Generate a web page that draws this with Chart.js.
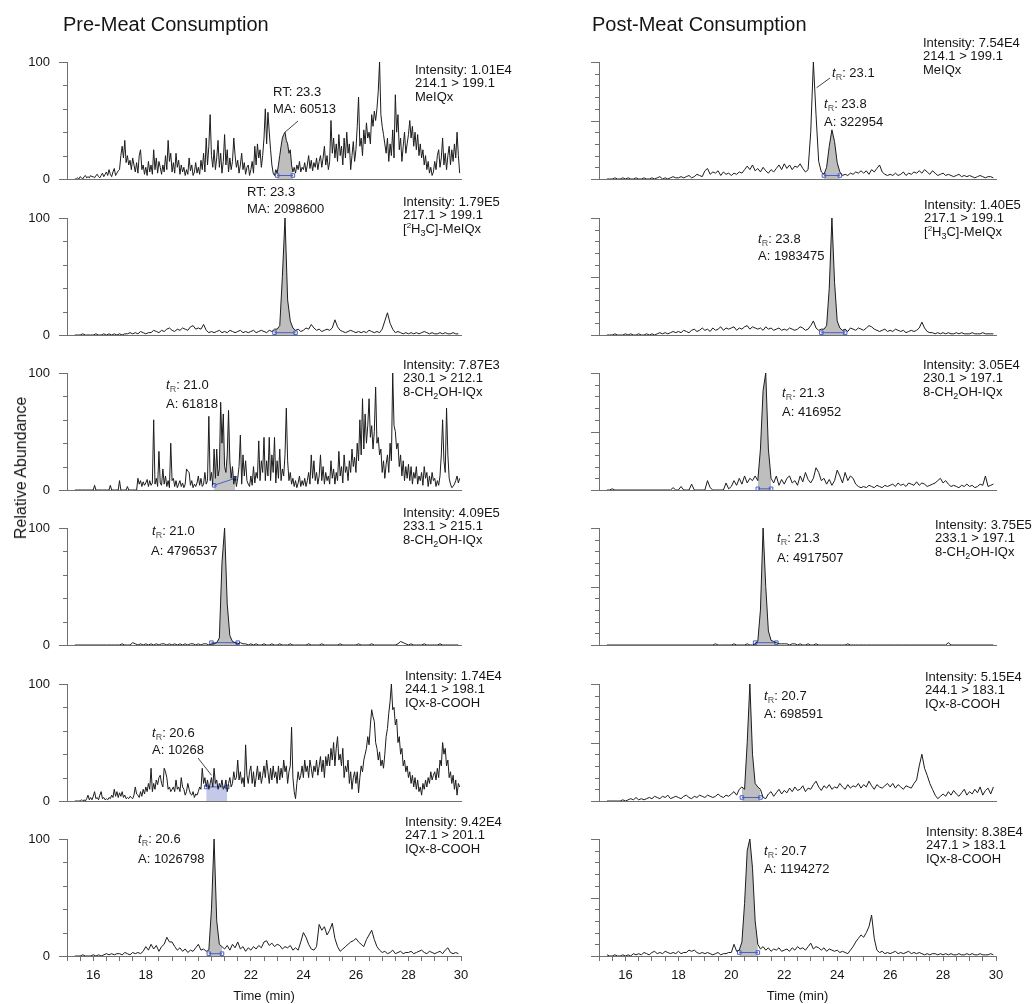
<!DOCTYPE html>
<html><head><meta charset="utf-8">
<script src="https://cdn.jsdelivr.net/npm/chart.js@4.4.1/dist/chart.umd.min.js"></script>
<style>
body{margin:0;background:#fff;}
#root{position:relative;width:1034px;height:1004px;overflow:hidden;font-family:"Liberation Sans",Arial,sans-serif;color:#151515;}
canvas{position:absolute;}
.t{position:absolute;white-space:nowrap;font-size:13px;line-height:13px;}
.sub{font-size:9px;position:relative;top:3px;color:#555;}
.isub{font-size:9px;position:relative;top:3px;}
.sup{font-size:8px;position:relative;top:-5px;}
.title{position:absolute;white-space:nowrap;font-size:20px;line-height:20px;}
.ytitle{position:absolute;white-space:nowrap;font-size:16px;line-height:16px;transform:translate(-50%,-50%) rotate(-90deg);}
</style></head><body><div id="root"></div>
<script>
// ---------------- DATA (relative abundance, % ; time starts at 15.3 min) ----------------
const T0 = 15.3;
const xTickLabels = [16, 18, 20, 22, 24, 26, 28, 30];

// Pre-meat, MeIQx 214.1>199.1 (0.05 min spacing)
const preMeIQx = [
0,0,1,0,2,1,0,2,3,1,2,1,3,2,
2,1,3,4,2,1,3,5,2,4,6,3,8,4,2,6,9,3,5,7,
8,20,28,18,33,14,20,12,16,8,18,12,6,14,5,20,25,8,12,4,
10,3,15,6,12,4,25,8,18,5,15,10,4,12,6,20,8,33,15,22,
6,14,5,22,10,16,4,12,6,10,3,8,4,18,7,12,3,6,14,5,
10,4,16,8,22,6,35,12,28,55,20,10,25,8,18,33,10,22,5,15,
38,12,25,6,18,8,15,35,20,10,16,5,12,22,8,14,4,10,12,3,
8,15,5,28,12,30,18,25,10,20,35,60,30,57,40,25,12,5,3,8,
5,12,20,28,35,38,40,33,30,22,25,12,6,10,5,12,8,15,6,10,
8,14,6,12,20,9,16,7,14,10,18,8,15,20,10,18,28,12,20,8,
15,50,22,35,18,30,15,38,20,28,12,35,18,40,22,30,8,20,32,15,
25,45,70,28,35,20,42,30,48,35,40,30,55,45,58,50,60,75,100,55,
45,38,30,22,35,15,30,20,42,18,72,40,55,25,35,15,28,40,22,30,
38,50,35,45,28,40,25,38,20,30,18,25,12,20,8,15,5,10,3,6,
15,8,20,25,10,18,35,12,22,8,20,28,12,25,15,30,18,40,20,5];

// Post-meat, MeIQx 214.1>199.1 (0.1 min)
const postMeIQx = [
0,0,0,1,0,0,1,
0,1,0,0,1,0,0,1,0,0,
1,0,1,2,0,1,0,1,2,1,
1,2,1,2,3,1,2,4,3,2,
7,9,4,6,5,7,3,6,4,5,
3,5,4,6,5,8,11,8,12,7,
9,6,10,7,5,8,6,9,12,8,
13,9,12,8,11,10,13,9,6,8,
40,100,55,15,6,4,10,28,42,32,
14,6,3,4,3,5,4,6,5,7,
5,7,4,8,6,9,12,6,4,3,
4,3,5,3,4,6,3,5,4,6,
5,7,5,8,6,4,7,5,3,4,
5,3,4,3,2,3,4,2,3,2,
3,2,1,2,3,2,1,2,2,1];

// Pre-meat, [2H3C]-MeIQx 217.1>199.1
const preD3MeIQx = [
0,0,0,1,0,0,0,
0,1,0,0,1,0,1,0,1,0,
1,0,1,1,2,1,2,1,3,2,
1,2,2,4,3,2,4,3,5,6,
4,3,5,4,6,5,4,7,8,5,
6,5,9,4,2,3,2,3,4,2,
3,2,4,3,2,3,4,2,3,2,
3,4,2,3,4,3,2,4,3,5,
5,8,50,100,30,12,6,4,5,3,
4,6,5,9,6,4,5,3,4,5,
4,6,13,7,4,3,2,3,4,3,
2,3,2,3,2,4,3,2,3,2,
5,12,19,10,5,2,3,2,1,2,
1,2,1,2,1,2,3,2,1,2,
1,1,2,1,2,1,1,2,1,1];

// Post-meat, [2H3C]-MeIQx 217.1>199.1
const postD3MeIQx = [
0,0,0,1,0,0,0,
1,0,1,0,0,1,0,0,1,0,
1,0,1,2,1,2,1,2,3,2,
3,2,4,3,2,4,5,3,4,6,
4,5,3,6,4,5,7,4,6,5,
6,7,4,6,5,7,8,5,7,6,
5,6,4,7,5,6,4,5,6,4,
5,4,6,5,4,5,7,6,4,5,
8,12,6,4,5,5,8,40,100,45,
12,6,4,5,3,6,5,4,6,5,
4,6,8,7,5,4,3,4,5,3,
4,3,5,4,3,4,2,3,4,3,
4,6,11,6,3,2,2,1,2,1,
2,1,2,1,1,2,1,2,1,1,
1,2,1,1,1,2,1,1,1,1];

// Pre-meat, 8-CH2OH-IQx 230.1>212.1 (0.05 min)
const preCH2OH230 = [
0,0,0,0,0,0,0,0,0,0,0,0,0,0,
0,4,0,0,0,0,0,0,0,0,0,0,0,4,0,0,0,0,0,0,
8,0,0,0,0,0,3,0,0,0,0,0,0,0,10,5,8,3,7,4,
6,9,3,8,4,6,60,5,10,3,33,6,4,18,5,12,3,8,2,40,
8,10,3,8,2,5,8,3,6,2,5,18,16,15,4,8,2,5,3,6,
12,4,10,3,5,15,5,8,63,8,15,4,35,10,35,12,18,75,40,65,
20,15,30,68,25,10,20,5,12,3,10,20,47,5,30,12,25,8,5,3,
12,4,20,6,15,10,42,8,25,15,45,8,25,12,45,8,30,15,45,6,
25,10,35,8,18,12,30,70,25,8,15,5,10,3,8,2,6,12,3,8,
4,10,3,8,15,5,30,10,25,8,15,5,12,30,8,20,5,15,8,12,
5,25,10,18,5,15,8,33,12,20,6,30,15,20,8,25,15,35,20,28,
15,40,25,60,30,78,35,65,40,55,78,45,55,35,50,88,40,45,30,35,
15,25,10,22,30,15,40,25,100,55,50,35,40,20,30,12,25,8,20,10,
22,8,20,5,15,10,20,5,12,8,15,4,20,10,15,3,12,5,15,8,
10,3,8,4,12,30,60,25,15,70,30,10,5,2,3,5,8,12,6,10];

// Post-meat, 8-CH2OH-IQx 230.1>197.1
const postCH2OH230 = [
0,0,1,0,0,0,0,
0,0,0,0,0,0,0,0,0,0,
0,0,0,0,0,0,0,0,2,0,
0,3,0,0,0,5,0,0,0,0,
0,8,2,0,0,0,0,0,6,1,
3,8,4,10,5,12,6,10,8,12,
8,35,85,100,35,10,6,12,4,9,
5,10,12,6,8,4,12,7,15,9,
6,10,19,15,8,10,5,9,4,8,
17,12,6,15,8,12,10,5,3,2,
3,2,4,3,2,4,3,2,4,3,
4,5,3,6,4,5,3,6,5,4,
7,4,6,5,3,4,5,6,8,10,
6,8,5,3,4,3,2,4,3,5,
3,4,2,3,5,4,12,3,4,5];

// Pre-meat, 8-CH2OH-IQx 233.1>215.1
const preCH2OH233 = [
0,0,0,0,0,0,0,
0,0,0,0,0,0,0,0,0,0,
0,1,0,0,0,2,1,0,1,0,
1,0,1,0,1,0,1,1,0,1,
0,1,0,1,0,1,0,1,1,0,
1,0,1,1,0,1,1,2,6,70,
100,35,8,3,2,1,2,1,1,0,
1,0,1,0,0,1,0,0,1,0,
0,1,0,0,0,1,0,0,0,0,
0,0,1,0,0,0,0,1,0,0,
0,0,0,0,1,0,0,0,0,0,
0,1,0,0,0,0,1,0,0,0,
0,0,0,0,0,0,1,3,2,1,
0,1,0,0,0,0,1,0,0,0,
0,0,1,0,0,0,0,0,0,0];

// Post-meat, 8-CH2OH-IQx 233.1>197.1
const postCH2OH233 = [
0,0,0,0,0,0,0,
0,0,0,0,0,0,0,0,0,0,
0,0,0,0,0,0,0,0,0,0,
0,0,0,0,0,0,0,0,0,0,
0,0,0,0,1,0,0,0,0,0,
0,1,0,0,0,0,1,0,0,1,
3,30,100,50,12,4,3,2,1,1,
1,1,0,1,1,0,1,0,0,1,
0,0,1,0,0,0,0,0,0,0,
0,0,0,0,1,0,0,0,0,0,
0,0,0,0,0,0,0,0,0,0,
0,0,0,0,0,0,0,0,0,0,
0,0,0,0,0,0,0,0,0,0,
0,0,2,0,0,0,0,0,0,0,
0,0,0,0,0,0,0,0,0,0];

// Pre-meat, IQx-8-COOH 244.1>198.1 (0.05 min)
const preCOOH244 = [
0,0,0,0,0,1,0,1,0,2,5,1,3,1,
4,8,2,3,1,5,8,2,3,1,2,1,3,2,5,3,10,4,8,3,
7,4,8,3,5,2,3,2,4,3,2,5,12,6,5,3,8,4,10,6,
12,8,15,10,28,8,15,10,18,14,20,22,15,12,28,25,20,10,12,8,
10,12,8,18,10,12,8,20,12,10,5,8,15,10,6,5,8,3,6,5,
8,12,10,28,15,20,12,18,10,15,20,12,28,15,18,10,15,12,18,10,
12,18,8,15,20,12,15,25,18,20,35,18,25,15,20,12,48,22,15,25,
30,15,25,12,20,30,18,25,15,22,30,20,35,25,15,28,18,30,20,25,
15,30,18,28,20,35,25,30,15,25,30,63,20,8,2,15,25,18,22,30,
20,35,25,30,20,35,28,20,30,25,35,22,30,38,25,35,20,38,30,40,
30,45,35,50,30,45,55,35,40,30,45,20,30,25,35,15,25,10,20,25,
15,25,7,20,30,25,35,40,45,55,48,65,78,72,68,50,45,35,42,30,
35,28,40,55,62,75,85,100,78,80,65,70,50,55,40,45,30,35,25,30,
20,25,15,22,12,20,10,18,8,12,5,15,10,18,12,20,15,25,18,22,
25,18,28,20,35,30,50,40,45,30,35,20,25,15,22,10,18,5,15,12];

// Post-meat, IQx-8-COOH 244.1>183.1
const postCOOH244 = [
0,0,0,0,0,0,1,
0,1,2,1,3,1,2,1,2,3,
2,4,3,2,4,3,5,2,3,4,
3,2,4,5,3,2,4,3,5,4,
3,5,4,3,4,6,4,3,5,4,
6,8,5,10,12,10,50,100,40,15,
12,10,3,2,6,8,4,7,10,6,
9,7,11,8,12,9,10,13,8,11,
10,14,17,12,9,13,11,14,10,12,
11,15,12,10,14,11,13,12,15,11,
14,12,17,13,10,14,12,11,13,15,
12,15,11,14,12,10,13,12,11,15,
18,30,40,28,22,15,10,5,2,4,
6,4,8,5,9,6,4,7,10,5,
8,6,10,7,12,5,9,11,6,12];

// Pre-meat, IQx-8-COOH 247.1>201.1
const preCOOH247 = [
0,0,0,1,0,0,0,
1,0,1,0,1,2,1,2,1,2,
2,1,3,2,1,3,2,3,2,4,
8,5,10,6,9,4,8,10,16,12,
12,8,5,7,4,6,3,5,4,7,
10,5,6,4,5,40,100,30,10,8,
6,9,5,10,7,12,6,8,4,7,
5,8,6,9,7,12,13,9,11,8,
10,9,6,8,7,9,5,7,5,12,
20,16,10,6,5,8,27,22,25,18,
22,28,15,8,4,6,8,10,12,13,
15,12,10,8,14,18,22,14,8,5,
3,4,2,3,5,2,3,4,2,3,
3,4,2,3,4,5,3,2,4,3,
2,3,4,2,5,7,3,2,3,2];

// Post-meat, IQx-8-COOH 247.1>183.1
const postCOOH247 = [
1,0,0,1,0,0,1,
0,1,0,2,1,2,1,3,2,1,
3,4,2,3,2,4,3,2,3,2,
4,2,3,3,5,4,5,3,2,3,
2,3,2,1,2,3,1,2,2,3,
3,10,4,5,12,45,90,100,75,30,
10,6,8,5,7,4,6,5,7,4,
5,6,4,7,5,8,6,7,5,8,
11,6,8,7,5,7,4,6,5,4,
5,3,4,3,2,5,8,12,15,18,
16,20,25,35,15,5,3,4,2,3,
2,3,4,2,3,2,3,4,2,3,
2,3,2,1,2,1,2,2,1,2,
1,2,1,2,1,1,2,1,1,2,
1,2,1,1,2,1,1,1,2,1];

// integrated peak windows [start, end] (min) and baseline levels (%)
const peakWindows = [[23.0,23.6],[23.5,24.1],[22.9,23.7],[23.4,24.3],[20.6,21.4],[21.0,21.5],[20.5,21.5],[20.9,21.7],[20.3,21.1],[20.4,21.1],[20.4,20.9],[20.3,21.0]];
const peakBaselines = [[3,3],[3,3],[2,2],[2,2],[4,10],[1,1],[2,2],[2,2],[12,12],[3,3],[2,2],[3,3]];

// ---------------- TEXT ----------------
const tR = '<i>t</i><span class="sub">R</span>';
const infoTexts = [
 ['Intensity: 1.01E4','214.1 &gt; 199.1','MeIQx'],
 ['Intensity: 7.54E4','214.1 &gt; 199.1','MeIQx'],
 ['Intensity: 1.79E5','217.1 &gt; 199.1','[<span class="sup">2</span>H<span class="isub">3</span>C]-MeIQx'],
 ['Intensity: 1.40E5','217.1 &gt; 199.1','[<span class="sup">2</span>H<span class="isub">3</span>C]-MeIQx'],
 ['Intensity: 7.87E3','230.1 &gt; 212.1','8-CH<span class="isub">2</span>OH-IQx'],
 ['Intensity: 3.05E4','230.1 &gt; 197.1','8-CH<span class="isub">2</span>OH-IQx'],
 ['Intensity: 4.09E5','233.1 &gt; 215.1','8-CH<span class="isub">2</span>OH-IQx'],
 ['Intensity: 3.75E5','233.1 &gt; 197.1','8-CH<span class="isub">2</span>OH-IQx'],
 ['Intensity: 1.74E4','244.1 &gt; 198.1','IQx-8-COOH'],
 ['Intensity: 5.15E4','244.1 &gt; 183.1','IQx-8-COOH'],
 ['Intensity: 9.42E4','247.1 &gt; 201.1','IQx-8-COOH'],
 ['Intensity: 8.38E4','247.1 &gt; 183.1','IQx-8-COOH']
];
const peakTexts = [
 ['RT: 23.3','MA: 60513'],
 [tR+': 23.1', tR+': 23.8','A: 322954'],
 ['RT: 23.3','MA: 2098600'],
 [tR+': 23.8','A: 1983475'],
 [tR+': 21.0','A: 61818'],
 [tR+': 21.3','A: 416952'],
 [tR+': 21.0','A: 4796537'],
 [tR+': 21.3','A: 4917507'],
 [tR+': 20.6','A: 10268'],
 [tR+': 20.7','A: 698591'],
 [tR+': 20.6','A: 1026798'],
 [tR+': 20.7','A: 1194272']
];

// ---------------- LAYOUT ----------------
const series = [preMeIQx, postMeIQx, preD3MeIQx, postD3MeIQx, preCH2OH230, postCH2OH230, preCH2OH233, postCH2OH233, preCOOH244, postCOOH244, preCOOH247, postCOOH247];
const steps = [0.05,0.1,0.1,0.1,0.05,0.1,0.1,0.1,0.05,0.1,0.1,0.1];
const fillColors = ['#bebebe','#bebebe','#bebebe','#bebebe','#c4c4c4','#bebebe','#bebebe','#bebebe','rgba(105,120,200,0.4)','#bebebe','#bebebe','#bebebe'];
const infoPos = [[415,74],[923,47],[403,206],[924,209],[403,369],[923,369],[403,517],[935,529],[405,680],[925,681],[405,826],[926,836]];
const peakPos = [
 [[273,96],[273,113]],
 [[832,77],[824,108],[824,126]],
 [[247,196],[247,213]],
 [[758,243],[758,260]],
 [[166,389],[166,408]],
 [[782,397],[782,416]],
 [[152,535],[151,555]],
 [[777,542],[777,562]],
 [[152,737],[152,754]],
 [[764,700],[764,718]],
 [[138,843],[138,863]],
 [[764,855],[764,873]]
];
const leaders = {0:{from:[298,121],to:[23.3,40]}, 1:{from:[830,78],to:[23.22,78]}, 8:{from:[198,758],to:[20.5,22]}};
const rowTop = [62,218,373,528,684,839];
const PH = 117, PADT = 45;
const AXIS = '#707070';
const FONT = '"Liberation Sans", Arial, sans-serif';
const root = document.getElementById('root');

function addText(x, baseline, html, cls, size){
  const d = document.createElement('div');
  d.className = cls;
  d.style.left = x + 'px';
  d.style.top = (baseline - 0.8465*size) + 'px';
  d.innerHTML = html;
  root.appendChild(d);
}

const tickPlugin = {
  id:'panelTicks',
  afterDraw(c){
    const y = c.scales.y, x = c.scales.x, ctx = c.ctx;
    ctx.save();
    ctx.strokeStyle = AXIS; ctx.lineWidth = 1; ctx.beginPath();
    y.ticks.forEach(t => {
      const py = Math.round(y.getPixelForValue(t.value)) + 0.5;
      const len = (t.value % 50 === 0) ? 8 : 4;
      ctx.moveTo(y.right - len, py); ctx.lineTo(y.right, py);
    });
    ctx.stroke();
    const L = c.options.plugins.panelTicks.leader;
    if (L){
      const off = c.options.plugins.panelTicks.offset;
      ctx.strokeStyle = '#444'; ctx.beginPath();
      ctx.moveTo(L.from[0]-off[0], L.from[1]-off[1]);
      ctx.lineTo(x.getPixelForValue(L.to[0]), y.getPixelForValue(L.to[1]));
      ctx.stroke();
    }
    ctx.restore();
  }
};

series.forEach((vals, k) => {
  const row = Math.floor(k/2), col = k % 2;
  const left = col === 0 ? 0 : 517;
  const yw = col === 0 ? 67 : 82;
  const pr = col === 0 ? 56 : 38;
  const bottom = row === 5;
  const xh = bottom ? 48 : 24;
  const top = rowTop[row] - PADT;
  const h = PADT + PH + xh;
  const cv = document.createElement('canvas');
  cv.width = 517; cv.height = h;
  cv.style.left = left + 'px'; cv.style.top = top + 'px';
  cv.style.width = '517px'; cv.style.height = h + 'px';
  root.appendChild(cv);
  const step = steps[k];
  const pts = vals.map((v,i) => ({x: +(T0 + i*step).toFixed(2), y: v}));
  const win = peakWindows[k], bl = peakBaselines[k];
  const shadePts = pts.filter(q => q.x >= win[0]-1e-6 && q.x <= win[1]+1e-6);
  new Chart(cv, {
    type:'line',
    data:{datasets:[
      {data:pts, borderColor:'#1c1c1c', borderWidth:1, pointRadius:0, fill:false, tension:0, order:1},
      {data:shadePts, borderWidth:0, pointRadius:0, fill:'origin', backgroundColor:fillColors[k], tension:0, order:3},
      {data:[{x:win[0],y:bl[0]},{x:win[1],y:bl[1]}], borderColor:'#4a60c8', borderWidth:1, pointStyle:'rect', pointRadius:2.5, pointBorderColor:'#4a60c8', pointBorderWidth:1, pointBackgroundColor:'rgba(0,0,0,0)', fill:false, order:2}
    ]},
    options:{
      responsive:false, animation:false, devicePixelRatio:1,
      layout:{padding:{top:PADT, right:pr, bottom:0, left:0}},
      plugins:{legend:{display:false}, tooltip:{enabled:false}, panelTicks:{leader: leaders[k], offset:[left, top]}},
      scales:{
        x:{type:'linear', min:15, max:30,
           afterFit(s){ s.height = xh; },
           border:{display:true, color:AXIS, width:1},
           grid:{display:bottom, drawOnChartArea:false, drawTicks:true, tickLength:5, color:AXIS},
           ticks:{display:bottom, stepSize:0.5, autoSkip:false, maxRotation:0, padding:7, color:'#151515',
                  font:{family:FONT, size:13},
                  callback:(v) => xTickLabels.includes(v) ? String(v) : ''},
           title:{display:bottom, text:'Time (min)', color:'#151515', font:{family:FONT, size:13}, padding:{top:0,bottom:0}}
        },
        y:{min:0, max:100,
           afterFit(s){ s.width = yw; },
           border:{display:true, color:AXIS, width:1},
           grid:{display:false},
           ticks:{display: col===0, stepSize:10, padding:9, color:'#151515', font:{family:FONT, size:13},
                  callback:(v) => (v % 50 === 0) ? String(v) : ''}
        }
      }
    },
    plugins:[tickPlugin]
  });
  const ip = infoPos[k];
  infoTexts[k].forEach((s,i) => addText(ip[0], ip[1] + i*13.3, s, 't', 13));
  peakTexts[k].forEach((s,i) => addText(peakPos[k][i][0], peakPos[k][i][1], s, 't', 13));
});

addText(63, 30.6, 'Pre-Meat Consumption', 'title', 20);
addText(592, 30.6, 'Post-Meat Consumption', 'title', 20);
const yt = document.createElement('div');
yt.className = 'ytitle'; yt.style.left = '21px'; yt.style.top = '468px';
yt.textContent = 'Relative Abundance';
root.appendChild(yt);
</script></body></html>
